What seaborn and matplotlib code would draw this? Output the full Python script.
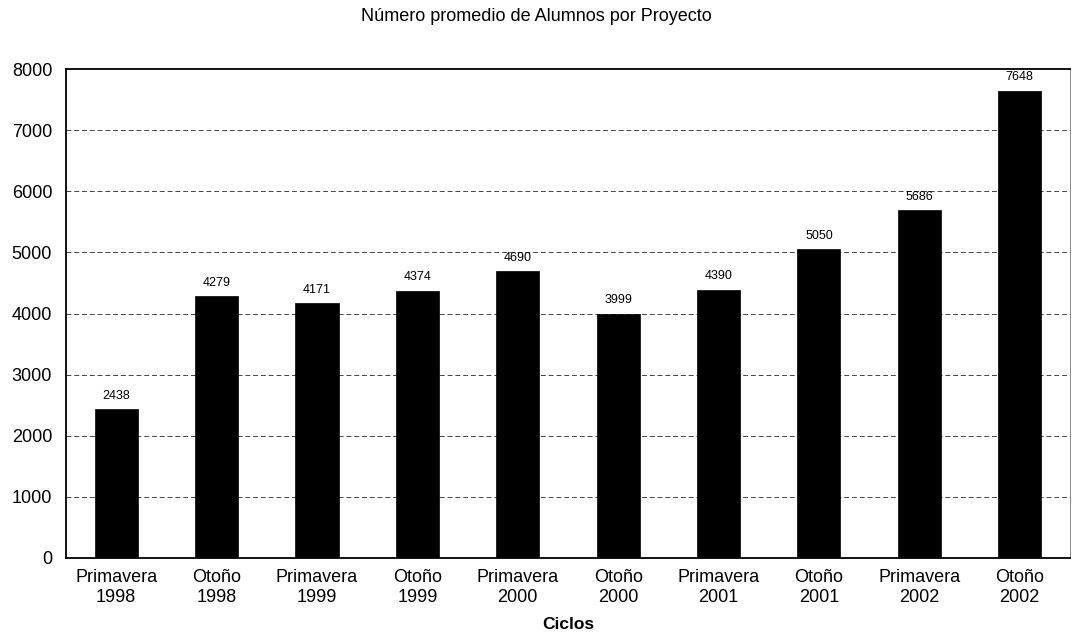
import matplotlib
matplotlib.use("Agg")
import matplotlib.pyplot as plt
import seaborn as sns
import pandas as pd

categories = ["Primavera\n1998", "Otoño\n1998", "Primavera\n1999", "Otoño\n1999",
              "Primavera\n2000", "Otoño\n2000", "Primavera\n2001", "Otoño\n2001",
              "Primavera\n2002", "Otoño\n2002"]
values = [2438, 4279, 4171, 4374, 4690, 3999, 4390, 5050, 5686, 7648]
yticks = [0, 1000, 2000, 3000, 4000, 5000, 6000, 7000, 8000]

sns.set_theme(style="white")
plt.rcParams['font.family'] = ['Liberation Sans', 'DejaVu Sans']
plt.rcParams['text.color'] = 'black'
plt.rcParams['xtick.color'] = 'black'
plt.rcParams['ytick.color'] = 'black'
plt.rcParams['axes.labelcolor'] = 'black'

df = pd.DataFrame({"ciclo": categories, "valor": values})

fig = plt.figure(figsize=(10.72, 6.34), dpi=100)
ax = fig.add_axes([0.0616, 0.120, 0.9364, 0.771])

sns.barplot(data=df, x="ciclo", y="valor", color="black", width=0.43,
            saturation=1, edgecolor="black", linewidth=0.5, ax=ax, zorder=3)

ax.set_ylim(0, 8000)
ax.set_yticks(yticks)
ax.set_yticklabels([str(t) for t in yticks], fontsize=13)
ax.tick_params(axis='x', labelsize=13, pad=8, length=0)
ax.tick_params(axis='y', pad=10, length=0)
for t in yticks[1:-1]:
    ax.axhline(t, color="#444444", linestyle=(0, (5, 3)), linewidth=0.7, zorder=1)

for i, v in enumerate(values):
    ax.text(i, v + 120, str(v), ha="center", va="bottom", fontsize=9, color="black")

for s in ax.spines.values():
    s.set_color("black")
    s.set_linewidth(1.3)
ax.spines['right'].set_linewidth(0.6)
ax.spines['right'].set_color("#777777")

ax.set_ylabel("")
ax.set_xlabel("Ciclos", fontsize=12.5, fontweight="bold", labelpad=8)
fig.suptitle("Número promedio de Alumnos por Proyecto", fontsize=13, y=0.988, color="black")

fig.savefig("out.png", dpi=100, facecolor="white")
